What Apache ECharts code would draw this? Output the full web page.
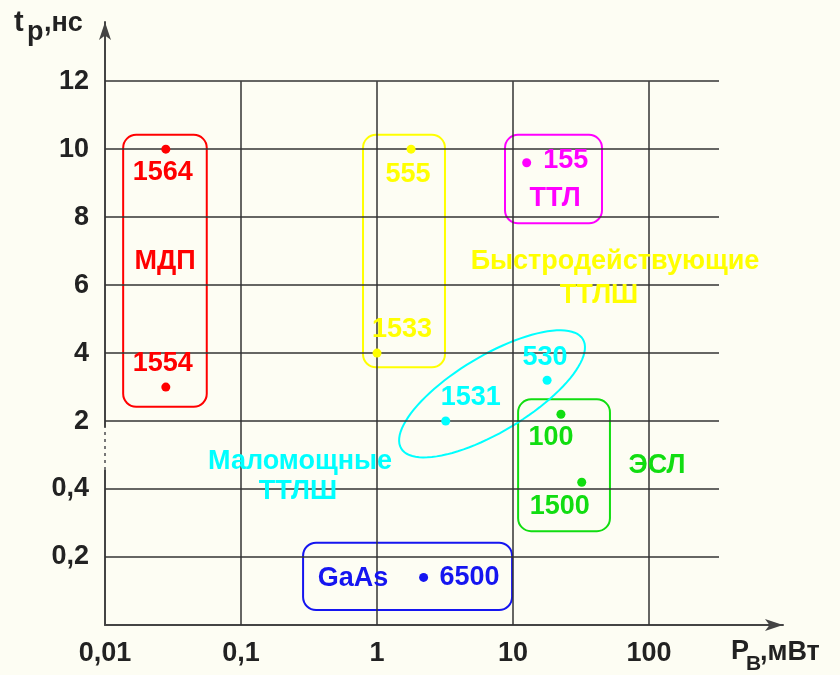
<!DOCTYPE html>
<html><head><meta charset="utf-8">
<script src="https://cdn.jsdelivr.net/npm/echarts@6/dist/echarts.min.js"></script>
<style>html,body{margin:0;padding:0;background:#fdfdf3}#c{width:840px;height:675px}</style>
</head><body><div id="c"></div>
<script>
// ---------------- DATA ----------------
const chips   = ['1564', '1554', '555', '1533', '155', '1531', '530', '100', '1500', '6500'];
const powerMW = [0.028, 0.028, 1.78, 1.0, 12.6, 3.2, 17.8, 22.5, 32, 2.2];
const delayNs = [10, 3, 10, 4, 9.6, 2, 3.2, 2.2, 0.56, 0.14];
const family  = ['mdp', 'mdp', 'fast', 'fast', 'ttl', 'low', 'low', 'esl', 'esl', 'gaas'];

const xTickValues = [0.01, 0.1, 1, 10, 100];
const xTickLabels = ['0,01', '0,1', '1', '10', '100'];
const yTickValues = [0, 0.2, 0.4, 2, 4, 6, 8, 10, 12];
const yTickLabels = ['', '0,2', '0,4', '2', '4', '6', '8', '10', '12'];

// ---------------- STYLE / LAYOUT ----------------
const BG = '#fdfdf3';
const FONT = "'Liberation Sans', Arial, sans-serif";
const FS = 27;
const colors = { mdp: '#ff0000', fast: '#ffff00', ttl: '#ff00ff', low: '#00ffff', esl: '#11dd11', gaas: '#1515f0' };
const labelOffsets = {
  '1564': [-3, 23], '1554': [-3, -24], '555': [-3, 25], '1533': [25, -24], '155': [39, -2],
  '1531': [25, -24], '530': [-2, -23], '100': [-10, 23], '1500': [-22, 24], '6500': [46, 0]
};
// group frames (x in mW, y in axis position units)
const boxes = [
  { fam: 'mdp',  x1: 0.0136, x2: 0.056, y1: 3.21, y2: 7.21 },
  { fam: 'fast', x1: 0.789,  x2: 3.16,  y1: 3.79, y2: 7.21 },
  { fam: 'ttl',  x1: 8.73,   x2: 45.1,  y1: 5.91, y2: 7.21 },
  { fam: 'esl',  x1: 10.9,   x2: 51.6,  y1: 1.38, y2: 3.32 },
  { fam: 'gaas', x1: 0.286,  x2: 9.84,  y1: 0.22, y2: 1.21 }
];
const lowEllipse = { x: 7.01, y: 3.40, a: 106, b: 38, angleDeg: 31 };
const notes = [
  { fam: 'mdp',  text: 'МДП', x: 0.0276, y: 5.34 },
  { fam: 'ttl',  text: 'ТТЛ', x: 20.4, y: 6.28 },
  { fam: 'fast', text: 'Быстродействующие', x: 56.2, y: 5.34 },
  { fam: 'fast', text: 'ТТЛШ', x: 42.9, y: 4.85 },
  { fam: 'low',  text: 'Маломощные', x: 0.272, y: 2.40 },
  { fam: 'low',  text: 'ТТЛШ', x: 0.262, y: 1.96 },
  { fam: 'esl',  text: 'ЭСЛ', x: 114.5, y: 2.35 },
  { fam: 'gaas', text: 'GaAs', x: 0.667, y: 0.69 }
];
const xGridEnd = 327;   // horizontal grid lines stop here (mW)
const yGridTop = 8;     // vertical grid lines stop at "12"

// map a delay value onto the (piecewise) vertical axis
function yPos(t) {
  for (let i = 0; i < yTickValues.length - 1; i++) {
    const a = yTickValues[i], b = yTickValues[i + 1];
    if (t <= b) return i + (t - a) / (b - a);
  }
  return yTickValues.length - 1;
}

const chart = echarts.init(document.getElementById('c'), null, { renderer: 'canvas' });

const gridLines = [];
for (let i = 1; i < yTickValues.length; i++) gridLines.push([{ coord: [xTickValues[0], i] }, { coord: [xGridEnd, i] }]);
for (let k = 1; k < xTickValues.length; k++) gridLines.push([{ coord: [xTickValues[k], 0] }, { coord: [xTickValues[k], yGridTop] }]);

const famOrder = ['mdp', 'fast', 'ttl', 'low', 'esl', 'gaas'];
const pointSeries = famOrder.map(f => ({
  type: 'scatter', z: 6, symbolSize: 9, silent: true,
  itemStyle: { color: colors[f], opacity: 1 },
  label: { show: true, position: 'inside', formatter: '{b}', color: colors[f],
           fontFamily: FONT, fontWeight: 'bold', fontSize: FS },
  data: chips.map((c, i) => ({ c, i })).filter(o => family[o.i] === f).map(o => ({
    name: o.c, value: [powerMW[o.i], yPos(delayNs[o.i])],
    label: { offset: labelOffsets[o.c] }
  }))
}));

const option = {
  backgroundColor: BG,
  animation: false,
  grid: { left: 105, right: 57, top: 22, bottom: 50, containLabel: false },
  xAxis: {
    type: 'log', logBase: 10, min: 0.01, max: 966,
    axisLine: { show: true, symbol: ['none', 'arrow'], symbolSize: [9, 18],
                lineStyle: { color: '#444', width: 2 } },
    axisTick: { show: false }, splitLine: { show: false },
    axisLabel: {
      margin: 15, color: '#222', fontFamily: FONT, fontWeight: 'bold', fontSize: FS,
      showMaxLabel: false,
      formatter: v => {
        for (let k = 0; k < xTickValues.length; k++)
          if (Math.abs(Math.log10(v) - Math.log10(xTickValues[k])) < 1e-6) return xTickLabels[k];
        return '';
      }
    }
  },
  yAxis: {
    type: 'value', min: 0, max: 8.87, interval: 1,
    axisLine: { show: true, symbol: ['none', 'arrow'], symbolSize: [9, 18],
                lineStyle: { color: '#444', width: 2 } },
    axisTick: { show: false }, splitLine: { show: false },
    axisLabel: {
      margin: 16, color: '#222', fontFamily: FONT, fontWeight: 'bold', fontSize: FS,
      formatter: v => {
        const r = Math.round(v);
        return Math.abs(v - r) < 1e-6 && yTickLabels[r] !== undefined ? yTickLabels[r] : '';
      }
    }
  },
  graphic: [
    { type: 'text', x: 14, y: 23, style: { text: 't', fill: '#222', font: `bold 29px ${FONT}`, verticalAlign: 'middle', align: 'left' } },
    { type: 'text', x: 27, y: 33, style: { text: 'p', fill: '#222', font: `bold 27px ${FONT}`, verticalAlign: 'middle', align: 'left' } },
    { type: 'text', x: 44, y: 24, style: { text: ',нс', fill: '#222', font: `bold 27px ${FONT}`, verticalAlign: 'middle', align: 'left' } },
    { type: 'text', x: 731, y: 652, style: { text: 'P', fill: '#222', font: `bold 27px ${FONT}`, verticalAlign: 'middle', align: 'left' } },
    { type: 'text', x: 746, y: 664, style: { text: 'B', fill: '#222', font: `bold 21px ${FONT}`, verticalAlign: 'middle', align: 'left' } },
    { type: 'text', x: 760, y: 653, style: { text: ',мВт', fill: '#222', font: `bold 27px ${FONT}`, verticalAlign: 'middle', align: 'left' } }
  ],
  series: [
    { type: 'scatter', z: 1, data: [], silent: true,
      markLine: { silent: true, symbol: ['none', 'none'], label: { show: false },
                  lineStyle: { type: 'solid', color: '#333', width: 1.5 },
                  emphasis: { disabled: true }, data: gridLines } },
    { type: 'custom', z: 3, silent: true,
      data: boxes.map(b => [b.x1, b.y1, b.x2, b.y2]),
      encode: { x: [0, 2], y: [1, 3] },
      renderItem: (params, api) => {
        const b = boxes[params.dataIndex];
        const p1 = api.coord([api.value(0), api.value(1)]);
        const p2 = api.coord([api.value(2), api.value(3)]);
        return { type: 'rect',
          shape: { x: Math.min(p1[0], p2[0]), y: Math.min(p1[1], p2[1]),
                   width: Math.abs(p2[0] - p1[0]), height: Math.abs(p2[1] - p1[1]), r: 13 },
          style: { fill: 'none', stroke: colors[b.fam], lineWidth: 2 } };
      } },
    { type: 'custom', z: 3, silent: true,
      data: [[lowEllipse.x, lowEllipse.y]],
      renderItem: (params, api) => {
        const c = api.coord([api.value(0), api.value(1)]);
        const th = lowEllipse.angleDeg * Math.PI / 180, pts = [];
        for (let k = 0; k < 96; k++) {
          const t = k / 96 * 2 * Math.PI;
          const ex = lowEllipse.a * Math.cos(t), ey = lowEllipse.b * Math.sin(t);
          pts.push([c[0] + ex * Math.cos(th) - ey * Math.sin(th), c[1] - (ex * Math.sin(th) + ey * Math.cos(th))]);
        }
        return { type: 'polygon', shape: { points: pts }, style: { fill: 'none', stroke: colors.low, lineWidth: 2 } };
      } },
    { type: 'custom', z: 3, silent: true,
      data: [[xTickValues[0], 2.28, 2.9]],
      renderItem: (params, api) => {
        const p1 = api.coord([api.value(0), api.value(1)]);
        const p2 = api.coord([api.value(0), api.value(2)]);
        return { type: 'group', children: [
          { type: 'rect', shape: { x: p1[0] - 3, y: p2[1], width: 6, height: p1[1] - p2[1] }, style: { fill: BG } },
          { type: 'line', shape: { x1: p1[0], y1: p1[1], x2: p2[0], y2: p2[1] },
            style: { stroke: '#777', lineWidth: 2, lineDash: [3, 4] } }
        ] };
      } },
    ...pointSeries,
    { type: 'custom', z: 6, silent: true,
      data: notes.map(n => [n.x, n.y]),
      renderItem: (params, api) => {
        const n = notes[params.dataIndex];
        const p = api.coord([api.value(0), api.value(1)]);
        return { type: 'text', x: p[0], y: p[1],
          style: { text: n.text, fill: colors[n.fam], font: `bold ${FS}px ${FONT}`,
                   align: 'center', verticalAlign: 'middle' } };
      } }
  ]
};
chart.setOption(option);
</script></body></html>
